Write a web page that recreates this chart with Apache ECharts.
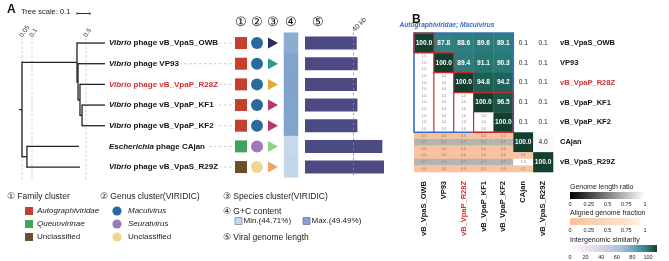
<!DOCTYPE html>
<html>
<head>
<meta charset="utf-8">
<script src="https://cdn.jsdelivr.net/npm/echarts@6/dist/echarts.min.js"></script>
<style>
html, body { margin: 0; padding: 0; background: #fff; }
#main { width: 669px; height: 261px; }
</style>
</head>
<body>
<div id="main"></div>
<script>
// ---- data ----
var phages = ['vB_VpaS_OWB', 'VP93', 'vB_VpaP_R28Z', 'vB_VpaP_KF1', 'vB_VpaP_KF2', 'CAjan', 'vB_VpaS_R29Z'];
var hostGenus = ['Vibrio', 'Vibrio', 'Vibrio', 'Vibrio', 'Vibrio', 'Escherichia', 'Vibrio'];
var highlightPhage = 'vB_VpaP_R28Z';
var familyOf = ['Autographiviridae', 'Autographiviridae', 'Autographiviridae', 'Autographiviridae', 'Autographiviridae', 'Queuovirinae', 'Unclassified'];
var genusOf = ['Maculvirus', 'Maculvirus', 'Maculvirus', 'Maculvirus', 'Maculvirus', 'Seuratvirus', 'Unclassified'];
var speciesOf = [0, 1, 2, 3, 3, 4, 5];
var gcContent = [48.7, 49.4, 49.49, 49.4, 49.4, 44.71, 44.9];
var genomeKb = [42.8, 43.6, 43.0, 43.4, 43.4, 64.0, 65.4];

// tree: id, parent, x (branch length from root), leaf row (-1 = internal)
var treeNodes = [
	['root', null, 0, -1],
	['cA', 'root', 0.423, -1],
	['OWB', 'cA', 0.638, 0],
	['cB', 'cA', 0.431, -1],
	['VP93', 'cB', 0.638, 1],
	['cC', 'cB', 0.446, -1],
	['R28Z', 'cC', 0.638, 2],
	['cD', 'cC', 0.462, -1],
	['KF1', 'cD', 0.638, 3],
	['KF2', 'cD', 0.638, 4],
	['cE', 'root', 0.038, -1],
	['CAjan', 'cE', 0.438, 5],
	['R29Z', 'cE', 0.446, 6]
];
var cutoffLabels = ['0.05', '0.1', '0.5'];
var cutoffPos = [0, 0.077, 0.492];
var treeScale = 0.1;

// VIRIDIC heatmap: upper triangle similarity (from the diagonal), lower triangle 3 stripes
var simUpper = [
	[100.0, 87.8, 88.6, 89.6, 89.1, 0.1, 0.1],
	[100.0, 89.4, 91.1, 90.3, 0.1, 0.1],
	[100.0, 94.8, 94.2, 0.1, 0.1],
	[100.0, 96.5, 0.1, 0.1],
	[100.0, 0.1, 0.1],
	[100.0, 4.0],
	[100.0]
];
var alignedFracA = [[], [1.0], [1.0, 1.0], [1.0, 1.0, 1.0], [1.0, 1.0, 1.0, 1.0], [0.0, 0.0, 0.0, 0.0, 0.0], [0.0, 0.0, 0.0, 0.0, 0.0, 0.1]];
var lengthRatio = [[], [1.0], [1.0, 1.0], [1.0, 1.0, 1.0], [1.0, 1.0, 1.0, 1.0], [0.7, 0.7, 0.7, 0.7, 0.7], [0.7, 0.7, 0.7, 0.7, 0.7, 1.0]];
var alignedFracB = [[], [1.0], [1.0, 1.0], [1.0, 1.0, 1.0], [1.0, 1.0, 1.0, 1.0], [0.0, 0.0, 0.0, 0.0, 0.0], [0.0, 0.0, 0.0, 0.0, 0.0, 0.1]];
var genusBoxRows = [0, 4];

var ratioTicks = ['0', '0.25', '0.5', '0.75', '1'];
var simTicks = ['0', '20', '40', '60', '80', '100'];

// ---- styles ----
var FONT = "'Liberation Sans', Arial, Helvetica, sans-serif";
var familyColors = { 'Autographiviridae': '#c4402e', 'Queuovirinae': '#3ea35c', 'Unclassified': '#6b4f2c' };
var genusColors = { 'Maculvirus': '#2b6a9c', 'Seuratvirus': '#9a7bb5', 'Unclassified': '#f3d590' };
var speciesColors = ['#2c2c5e', '#2a9a8c', '#e8a93a', '#b8386d', '#8fd28a', '#f0a263'];
var simStops = [[0, '#ffffff'], [20, '#efe3f0'], [40, '#d0cfe6'], [60, '#9fbfdc'], [80, '#4b97ad'], [90, '#2b7a78'], [100, '#123f30']];
var fracStops = [[0, '#f7c29e'], [0.8, '#fde4d2'], [1, '#ffffff']];
var ratioStops = [[0, '#000000'], [1, '#ffffff']];
var redLine = '#c8282c', blueLine = '#3a6cc4';

var rowTop = 32.7, rowSpan = 144.7, treePx = 130;

function hex2rgb(h) {
	return [parseInt(h.substr(1, 2), 16), parseInt(h.substr(3, 2), 16), parseInt(h.substr(5, 2), 16)];
}
function lerpColor(stops, v) {
	if (v <= stops[0][0]) return stops[0][1];
	for (var i = 1; i < stops.length; i++) {
		if (v <= stops[i][0]) {
			var t = (v - stops[i-1][0]) / (stops[i][0] - stops[i-1][0]),
				a = hex2rgb(stops[i-1][1]), b = hex2rgb(stops[i][1]);
			return 'rgb(' + Math.round(a[0] + (b[0]-a[0])*t) + ',' + Math.round(a[1] + (b[1]-a[1])*t) + ',' + Math.round(a[2] + (b[2]-a[2])*t) + ')';
		}
	}
	return stops[stops.length-1][1];
}

// ---- tree layout ----
var nodeMap = {}, i, j;
treeNodes.forEach(function (n) { nodeMap[n[0]] = { id: n[0], parent: n[1], x: n[2], row: n[3], kids: [] }; });
treeNodes.forEach(function (n) { if (n[1]) nodeMap[n[1]].kids.push(nodeMap[n[0]]); });
function layoutY(nd) {
	if (nd.row >= 0) { nd.y = nd.row; return nd.y; }
	var ys = nd.kids.map(layoutY);
	nd.yMin = Math.min.apply(null, ys);
	nd.yMax = Math.max.apply(null, ys);
	nd.y = (nd.yMin + nd.yMax) / 2;
	return nd.y;
}
layoutY(nodeMap.root);
var treeData = treeNodes.map(function (n) {
	var nd = nodeMap[n[0]],
		px = nd.parent ? nodeMap[nd.parent].x : -0.022;
	return [nd.x, nd.y, px, nd.row >= 0 ? nd.y : nd.yMin, nd.row >= 0 ? nd.y : nd.yMax, nd.row];
});
var labelX = 0.669;

// ---- heatmap cells ----
var cellData = [];
for (i = 0; i < phages.length; i++) {
	for (j = 0; j < phages.length; j++) {
		if (j >= i) cellData.push([j, i, 0, simUpper[i][j - i], 0, 0]);
		else cellData.push([j, i, 1, alignedFracA[i][j], lengthRatio[i][j], alignedFracB[i][j]]);
	}
}
// boxes: c0, r0, c1, r1, kind (0 genus, 1 species box, 2 species guide line)
var boxData = [[genusBoxRows[0], genusBoxRows[0], genusBoxRows[1], genusBoxRows[1], 0]];
var s0 = 0;
for (i = 1; i <= genusBoxRows[1] + 1; i++) {
	if (i > genusBoxRows[1] || speciesOf[i] !== speciesOf[s0]) {
		boxData.push([s0, s0, i - 1, i - 1, 1]);
		if (s0 > 0 && i - 1 < genusBoxRows[1]) boxData.push([s0, i, s0, genusBoxRows[1], 2]);
		s0 = i;
	}
}

// ---- chart ----
var chart = echarts.init(document.getElementById('main'), null, { renderer: 'canvas' });

function phageColor(name) { return name === highlightPhage ? '#d1302f' : '#111'; }
function txt(x, y, text, size, extra) {
	var st = { text: text, x: x, y: y, fontSize: size, fontFamily: FONT, fill: '#222', align: 'left', verticalAlign: 'middle' };
	for (var k in (extra || {})) st[k] = extra[k];
	return { type: 'text', style: st, z: 10 };
}
function gradRect(x, y, w, h, stops, max) {
	return {
		type: 'rect', shape: { x: x, y: y, width: w, height: h }, z: 10,
		style: { fill: new echarts.graphic.LinearGradient(0, 0, 1, 0, stops.map(function (s) { return { offset: s[0] / max, color: s[1] }; })) }
	};
}

var graphics = [
	txt(7, 9.5, 'A', 12, { fontWeight: 'bold', fill: '#111' }),
	txt(21, 12, 'Tree scale: 0.1', 7.5),
	{ type: 'line', shape: { x1: 77, y1: 13.5, x2: 77 + treeScale * treePx, y2: 13.5 }, style: { stroke: '#333', lineWidth: 1 } },
	{ type: 'line', shape: { x1: 77, y1: 12, x2: 77, y2: 15 }, style: { stroke: '#333', lineWidth: 0.8 } },
	{ type: 'line', shape: { x1: 77 + treeScale * treePx, y1: 12, x2: 77 + treeScale * treePx, y2: 15 }, style: { stroke: '#333', lineWidth: 0.8 } },
	txt(241, 23, '①', 12.5, { align: 'center', fill: '#111' }),
	txt(257, 23, '②', 12.5, { align: 'center', fill: '#111' }),
	txt(273, 23, '③', 12.5, { align: 'center', fill: '#111' }),
	txt(291, 23, '④', 12.5, { align: 'center', fill: '#111' }),
	txt(318, 23, '⑤', 12.5, { align: 'center', fill: '#111' }),

	// legend A
	txt(7, 197, '① Family cluster', 8.5),
	txt(100, 197, '② Genus cluster(VIRIDIC)', 8.5),
	txt(223, 197, '③ Species cluster(VIRIDIC)', 8.5),
	txt(223, 212, '④ G+C content', 8.5),
	txt(223, 238, '⑤ Viral genome length', 8.5),
	{ type: 'rect', shape: { x: 235, y: 217.5, width: 7, height: 7 }, style: { fill: '#c6d9ec', stroke: '#6f8db3', lineWidth: 0.8 } },
	txt(243.5, 221, 'Min.(44.71%)', 8),
	{ type: 'rect', shape: { x: 303, y: 217.5, width: 7, height: 7 }, style: { fill: '#80a3cc', stroke: '#5f7fa8', lineWidth: 0.8 } },
	txt(311.5, 221, 'Max.(49.49%)', 8),

	// panel B
	txt(412, 20, 'B', 12, { fontWeight: 'bold', fill: '#111' }),
	txt(447, 25.5, 'Autographiviridae; Maculvirus', 6.6, { align: 'center', fontWeight: 'bold', fontStyle: 'italic', fill: blueLine }),
	txt(570, 187, 'Genome length ratio', 7),
	gradRect(570, 192, 75, 7, ratioStops, 1),
	txt(570, 213, 'Aligned genome fraction', 7),
	gradRect(570, 218, 75, 7, fracStops, 1),
	txt(570, 240, 'Intergenomic similarity', 7),
	gradRect(570, 245, 87, 7, simStops, 100)
];
['Autographiviridae', 'Queuovirinae', 'Unclassified'].forEach(function (f, k) {
	var y = 211 + k * 13;
	graphics.push({ type: 'rect', shape: { x: 25, y: y - 4, width: 8, height: 8 }, style: { fill: familyColors[f] } });
	graphics.push(txt(37, y, f, 8, { fontStyle: f === 'Unclassified' ? 'normal' : 'italic' }));
});
['Maculvirus', 'Seuratvirus', 'Unclassified'].forEach(function (g, k) {
	var y = 211 + k * 13;
	graphics.push({ type: 'circle', shape: { cx: 117, cy: y, r: 4.6 }, style: { fill: genusColors[g] } });
	graphics.push(txt(128, y, g, 8, { fontStyle: g === 'Unclassified' ? 'normal' : 'italic' }));
});
ratioTicks.forEach(function (t, k) {
	graphics.push(txt(570 + k * 75 / 4, 204, t, 5.5, { align: 'center' }));
	graphics.push(txt(570 + k * 75 / 4, 230, t, 5.5, { align: 'center' }));
});
simTicks.forEach(function (t, k) {
	graphics.push(txt(570 + k * 15.6, 257, t, 5.5, { align: 'center' }));
});

var hiddenVal = { show: false };
var option = {
	animation: false,
	graphic: { elements: graphics },
	grid: [
		{ left: 22, top: rowTop, width: treePx, height: rowSpan },
		{ left: 233, top: rowTop, width: 48, height: rowSpan },
		{ left: 284, top: rowTop, width: 14, height: rowSpan },
		{ left: 305, top: rowTop, width: 70 * 1.208, height: rowSpan },
		{ left: 414, top: 33, width: 139, height: 139 }
	],
	xAxis: [
		{ gridIndex: 0, type: 'value', min: 0, max: 1, show: false },
		{ gridIndex: 1, type: 'category', data: ['family', 'genus', 'species'], show: false },
		{ gridIndex: 2, type: 'category', data: ['gc'], show: false },
		{ gridIndex: 3, type: 'value', min: 0, max: 70, interval: 40, position: 'top',
			axisLine: hiddenVal, axisTick: hiddenVal, splitLine: hiddenVal,
			axisLabel: { rotate: -45, margin: 2, fontSize: 7, fontFamily: FONT, color: '#333', showMaxLabel: false,
				formatter: function (v) { return v === 40 ? '40 kb' : ''; } } },
		{ gridIndex: 4, type: 'category', data: phages, position: 'bottom',
			axisLine: hiddenVal, axisTick: hiddenVal, splitLine: hiddenVal,
			axisLabel: { rotate: 90, margin: 9, fontSize: 7.5, fontWeight: 'bold', fontFamily: FONT, interval: 0,
				color: function (v) { return phageColor(v); } } }
	],
	yAxis: [
		{ gridIndex: 0, type: 'value', min: -0.5, max: 6.5, inverse: true, show: false },
		{ gridIndex: 1, type: 'category', data: phages, inverse: true, show: false },
		{ gridIndex: 2, type: 'category', data: phages, inverse: true, show: false },
		{ gridIndex: 3, type: 'category', data: phages, inverse: true, show: false },
		{ gridIndex: 4, type: 'category', data: phages, inverse: true, position: 'right',
			axisLine: hiddenVal, axisTick: hiddenVal, splitLine: hiddenVal,
			axisLabel: { margin: 7, fontSize: 7.5, fontWeight: 'bold', fontFamily: FONT, interval: 0,
				color: function (v) { return phageColor(v); } } }
	],
	visualMap: [{
		show: false, seriesIndex: 5, dimension: 2, min: 44.71, max: 49.49,
		inRange: { color: ['#c6d9ec', '#80a3cc'] }
	}],
	series: [
		{
			type: 'custom', xAxisIndex: 0, yAxisIndex: 0, clip: false, z: 3,
			data: treeData,
			renderItem: function (params, api) {
				var x = api.value(0), y = api.value(1), row = api.value(5),
					p = api.coord([x, y]), pp = api.coord([api.value(2), y]),
					kids = [{ type: 'line', shape: { x1: pp[0], y1: p[1], x2: p[0], y2: p[1] }, style: { stroke: '#222', lineWidth: 1.3 } }];
				if (row < 0) {
					var a = api.coord([x, api.value(3)]), b = api.coord([x, api.value(4)]);
					kids.push({ type: 'line', shape: { x1: p[0], y1: a[1] - 0.65, x2: p[0], y2: b[1] + 0.65 }, style: { stroke: '#222', lineWidth: 1.3 } });
				} else {
					var lp = api.coord([labelX, y]), name = phages[row];
					kids.push({ type: 'line', shape: { x1: lp[0], y1: lp[1], x2: 233, y2: lp[1] }, style: { stroke: '#bbb', lineWidth: 0.8, lineDash: [2.5, 2.5] } });
					kids.push({ type: 'text', style: {
						x: lp[0] - 1, y: lp[1], text: '{i|' + hostGenus[row] + '} phage ' + name,
						fontSize: 8, fontWeight: 'bold', fontFamily: FONT, fill: phageColor(name),
						align: 'left', verticalAlign: 'middle', backgroundColor: '#fff', padding: [1, 2, 1, 1],
						rich: { i: { fontStyle: 'italic', fontWeight: 'bold', fontSize: 8, fontFamily: FONT, fill: phageColor(name) } }
					} });
				}
				return { type: 'group', children: kids };
			}
		},
		{
			type: 'custom', xAxisIndex: 0, yAxisIndex: 0, clip: false, z: 1,
			data: cutoffPos.map(function (v, k) { return [v, k]; }),
			renderItem: function (params, api) {
				var a = api.coord([api.value(0), -0.27]), b = api.coord([api.value(0), 6.6]);
				return { type: 'group', children: [
					{ type: 'line', shape: { x1: a[0], y1: a[1], x2: b[0], y2: b[1] }, style: { stroke: '#c4c4c4', lineWidth: 0.8, lineDash: [2.5, 2] } },
					{ type: 'text', x: a[0] - 1, y: a[1] - 1, rotation: Math.PI * 55 / 180,
						style: { text: cutoffLabels[api.value(1)], fontSize: 6.5, fontFamily: FONT, fill: '#333', align: 'left', verticalAlign: 'middle' } }
				] };
			}
		},
		{
			type: 'scatter', xAxisIndex: 1, yAxisIndex: 1, symbol: 'rect', symbolSize: 12,
			data: familyOf.map(function (f, k) { return { value: [0, k], itemStyle: { color: familyColors[f], opacity: 1 } }; })
		},
		{
			type: 'scatter', xAxisIndex: 1, yAxisIndex: 1, symbol: 'circle', symbolSize: 12,
			data: genusOf.map(function (g, k) { return { value: [1, k], itemStyle: { color: genusColors[g], opacity: 1 } }; })
		},
		{
			type: 'scatter', xAxisIndex: 1, yAxisIndex: 1, symbol: 'triangle', symbolSize: [11, 10], symbolRotate: -90,
			data: speciesOf.map(function (s, k) { return { value: [2, k], itemStyle: { color: speciesColors[s], opacity: 1 } }; })
		},
		{
			type: 'heatmap', xAxisIndex: 2, yAxisIndex: 2,
			data: gcContent.map(function (v, k) { return [0, k, v]; })
		},
		{
			type: 'bar', xAxisIndex: 3, yAxisIndex: 3, barWidth: 13, z: 2,
			itemStyle: { color: '#4b4a82' },
			data: genomeKb,
			markLine: {
				silent: true, symbol: ['none', 'none'], label: { show: false }, z: 5,
				lineStyle: { type: [2.5, 2.5], color: '#8a8a8a', width: 0.8 },
				data: [{ xAxis: 40 }]
			}
		},
		{
			type: 'custom', xAxisIndex: 4, yAxisIndex: 4, z: 2,
			data: cellData,
			renderItem: function (params, api) {
				var c = api.coord([api.value(0), api.value(1)]), s = api.size([1, 1]),
					x0 = c[0] - s[0] / 2, y0 = c[1] - s[1] / 2;
				if (api.value(2) === 0) {
					var v = api.value(3), dark = v > 50;
					return { type: 'group', children: [
						{ type: 'rect', shape: { x: x0, y: y0, width: s[0] + 0.3, height: s[1] + 0.3 }, style: { fill: lerpColor(simStops, v) } },
						{ type: 'text', style: { x: c[0], y: c[1], text: v.toFixed(1), fontSize: 6.6, fontWeight: dark ? 'bold' : 'normal',
							fontFamily: FONT, fill: dark ? '#fff' : '#222', align: 'center', verticalAlign: 'middle' } }
					] };
				}
				var h = s[1] / 3, vals = [api.value(3), api.value(4), api.value(5)],
					cols = [lerpColor(fracStops, vals[0]), lerpColor(ratioStops, vals[1]), lerpColor(fracStops, vals[2])],
					kids = [];
				for (var k = 0; k < 3; k++) {
					kids.push({ type: 'rect', shape: { x: x0, y: y0 + k * h, width: s[0] + 0.3, height: h + 0.3 }, style: { fill: cols[k] } });
					kids.push({ type: 'text', style: { x: c[0], y: y0 + (k + 0.5) * h, text: vals[k].toFixed(1), fontSize: 3.4,
						fontFamily: FONT, fill: '#777', align: 'center', verticalAlign: 'middle' } });
				}
				return { type: 'group', children: kids };
			}
		},
		{
			type: 'custom', xAxisIndex: 4, yAxisIndex: 4, z: 4, clip: false,
			data: boxData,
			renderItem: function (params, api) {
				var s = api.size([1, 1]),
					a = api.coord([api.value(0), api.value(1)]), b = api.coord([api.value(2), api.value(3)]),
					x0 = a[0] - s[0] / 2, y0 = a[1] - s[1] / 2, x1 = b[0] + s[0] / 2, y1 = b[1] + s[1] / 2,
					kind = api.value(4);
				if (kind === 2) {
					return { type: 'line', shape: { x1: x0, y1: y0, x2: x0, y2: y1 }, style: { stroke: redLine, lineWidth: 1.2 } };
				}
				return { type: 'rect', shape: { x: x0, y: y0, width: x1 - x0, height: y1 - y0 },
					style: { fill: 'none', stroke: kind === 0 ? blueLine : redLine, lineWidth: kind === 0 ? 1.6 : 1.2 } };
			}
		}
	]
};

chart.setOption(option);
</script>
</body>
</html>
